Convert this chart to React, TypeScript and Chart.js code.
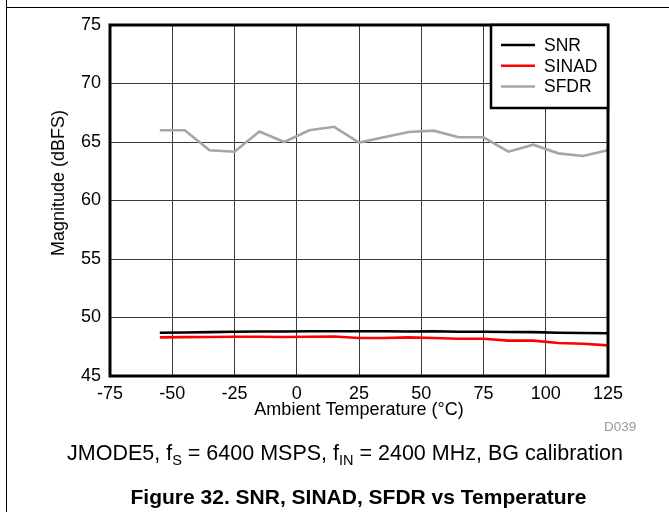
import React, { useEffect, useRef } from "react";
import { Chart, registerables } from "chart.js";

Chart.register(...registerables);

// ---- Data ----
const temperatures = [-55, -45, -35, -25, -15, -5, 5, 15, 25, 35, 45, 55, 65, 75, 85, 95, 105, 115, 125];
const snrValues = [48.7, 48.72, 48.75, 48.78, 48.8, 48.8, 48.83, 48.83, 48.82, 48.82, 48.8, 48.83, 48.78, 48.78, 48.76, 48.75, 48.7, 48.68, 48.65];
const sinadValues = [48.3, 48.32, 48.33, 48.35, 48.35, 48.33, 48.35, 48.38, 48.25, 48.25, 48.3, 48.25, 48.18, 48.18, 48.02, 48.02, 47.82, 47.75, 47.62];
const sfdrValues = [66.0, 66.0, 64.3, 64.17, 65.9, 65.0, 66.0, 66.3, 64.95, 65.4, 65.85, 65.97, 65.4, 65.4, 64.17, 64.77, 64.03, 63.8, 64.3];
const seriesNames = ["SNR", "SINAD", "SFDR"];
const seriesColors = ["#000000", "#ff0000", "#a6a6a6"];
const xMin = -75;
const xMax = 125;
const xStep = 25;
const yMin = 45;
const yMax = 75;
const yStep = 5;
const xTitle = "Ambient Temperature (°C)";
const yTitle = "Magnitude (dBFS)";

const FONT = "'Liberation Sans', Arial, Helvetica, sans-serif";

const borderPlugin = {
  id: "plotBorder",
  afterDatasetsDraw(chart: any) {
    const { ctx, chartArea } = chart;
    ctx.save();
    ctx.strokeStyle = "#000";
    ctx.lineWidth = 3;
    ctx.strokeRect(chartArea.left, chartArea.top, chartArea.right - chartArea.left, chartArea.bottom - chartArea.top);
    ctx.restore();
  },
};

const legendPlugin = {
  id: "boxLegend",
  afterDraw(chart: any) {
    const { ctx, chartArea } = chart;
    const w = 117;
    const h = 83;
    const x0 = chartArea.right - w;
    const y0 = chartArea.top;
    ctx.save();
    ctx.fillStyle = "#fff";
    ctx.fillRect(x0, y0, w, h);
    ctx.strokeStyle = "#000";
    ctx.lineWidth = 2.5;
    ctx.strokeRect(x0, y0, w, h);
    chart.data.datasets.forEach((ds: any, i: number) => {
      const y = y0 + 20 + i * 20.8;
      ctx.strokeStyle = ds.borderColor;
      ctx.lineWidth = 2.5;
      ctx.beginPath();
      ctx.moveTo(x0 + 10, y);
      ctx.lineTo(x0 + 44, y);
      ctx.stroke();
      ctx.fillStyle = "#000";
      ctx.font = `17.5px ${FONT}`;
      ctx.textBaseline = "middle";
      ctx.textAlign = "left";
      ctx.fillText(ds.label, x0 + 53, y + 1);
    });
    ctx.restore();
  },
};

export default function App() {
  const canvasRef = useRef<HTMLCanvasElement | null>(null);

  useEffect(() => {
    if (!canvasRef.current) return;
    const seriesValues = [snrValues, sinadValues, sfdrValues];
    const chart = new Chart(canvasRef.current, {
      type: "line",
      data: {
        datasets: seriesNames.map((name, i) => ({
          label: name,
          data: temperatures.map((t, j) => ({ x: t, y: seriesValues[i][j] })),
          borderColor: seriesColors[i],
          backgroundColor: seriesColors[i],
          borderWidth: 2.6,
          pointRadius: 0,
          tension: 0,
          fill: false,
        })),
      },
      options: {
        responsive: false,
        animation: false,
        events: [],
        layout: { padding: { left: 0, top: 25, right: 61, bottom: 86 } },
        plugins: {
          legend: { display: false },
          tooltip: { enabled: false },
          title: { display: false },
        },
        scales: {
          x: {
            type: "linear",
            min: xMin,
            max: xMax,
            afterFit: (scale: any) => {
              scale.height = 50;
            },
            ticks: {
              stepSize: xStep,
              color: "#000",
              padding: 7,
              maxRotation: 0,
              font: { family: FONT, size: 18 },
            },
            grid: { color: "#3a3a3a", lineWidth: 1, drawTicks: false },
            border: { display: false },
            title: {
              display: true,
              text: xTitle,
              color: "#000",
              font: { family: FONT, size: 18 },
              padding: { top: 0, bottom: 5 },
            },
          },
          y: {
            type: "linear",
            min: yMin,
            max: yMax,
            afterFit: (scale: any) => {
              scale.width = 110;
            },
            ticks: {
              stepSize: yStep,
              color: "#000",
              padding: 9,
              font: { family: FONT, size: 18 },
            },
            grid: { color: "#3a3a3a", lineWidth: 1, drawTicks: false },
            border: { display: false },
            title: { display: false, text: yTitle },
          },
        },
      },
      plugins: [borderPlugin, legendPlugin],
    });
    return () => chart.destroy();
  }, []);

  return (
    <div style={{ position: "absolute", left: 0, top: 0, width: 669, height: 512, background: "#fff", overflow: "hidden", fontFamily: FONT }}>
      <div style={{ position: "absolute", left: 6, top: 0, width: 1, height: 512, background: "#000" }} />
      <div style={{ position: "absolute", left: 6, top: 7, width: 663, height: 1, background: "#000" }} />
      <canvas ref={canvasRef} width={669} height={512} style={{ position: "absolute", left: 0, top: 0, width: 669, height: 512 }} />
      <div
        style={{
          position: "absolute",
          left: 58,
          top: 183,
          transform: "translate(-50%, -50%) rotate(-90deg)",
          fontSize: 18,
          lineHeight: "20px",
          color: "#000",
          whiteSpace: "nowrap",
        }}
      >
        {yTitle}
      </div>
      <div style={{ position: "absolute", left: 604, top: 419, fontSize: 13.5, color: "#9a9a9a", whiteSpace: "nowrap", lineHeight: "16px" }}>D039</div>
      <div style={{ position: "absolute", left: 0, width: 690, top: 440, textAlign: "center", fontSize: 21.5, color: "#000", whiteSpace: "nowrap", lineHeight: "26px" }}>
        JMODE5, f<sub style={{ fontSize: 14.5, verticalAlign: "-5px", lineHeight: 0 }}>S</sub> = 6400 MSPS, f<sub style={{ fontSize: 14.5, verticalAlign: "-5px", lineHeight: 0 }}>IN</sub> = 2400 MHz, BG calibration
      </div>
      <div style={{ position: "absolute", left: 0, width: 717, top: 485, textAlign: "center", fontSize: 21, fontWeight: "bold", color: "#000", whiteSpace: "nowrap", lineHeight: "24px" }}>
        Figure 32. SNR, SINAD, SFDR vs Temperature
      </div>
    </div>
  );
}
